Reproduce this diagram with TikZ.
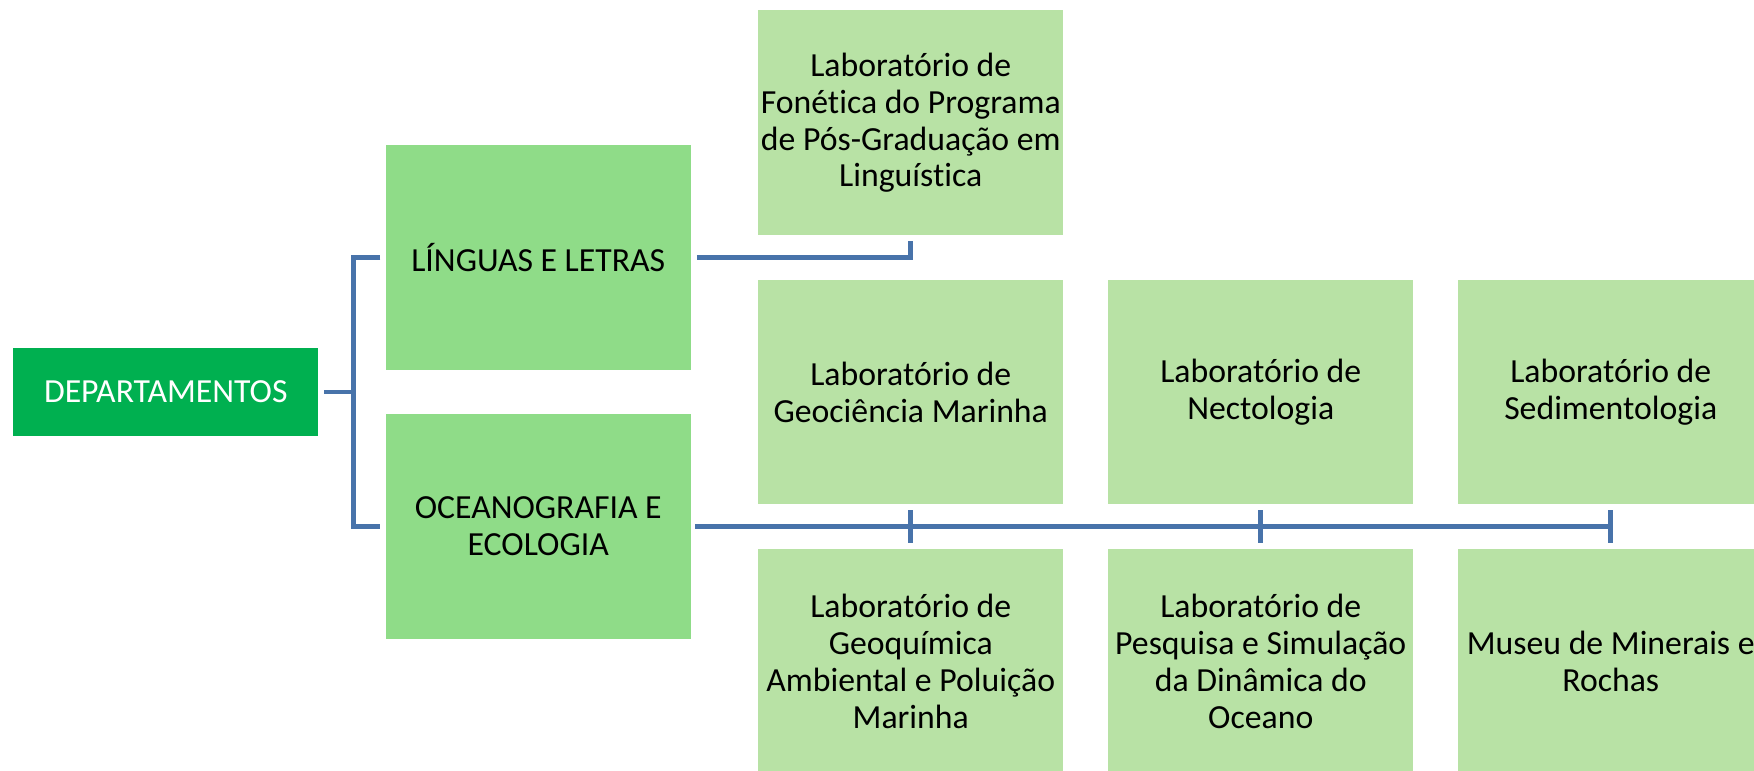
\documentclass[tikz,border=0pt]{standalone}
\usepackage{fontspec}
\setmainfont{Carlito}[Ligatures=NoCommon]
\usetikzlibrary{positioning}
\definecolor{deptgreen}{RGB}{0,176,80}
\definecolor{areagreen}{RGB}{143,220,136}
\definecolor{labgreen}{RGB}{184,226,165}
\definecolor{linkblue}{RGB}{72,115,170}

\begin{document}
\begin{tikzpicture}[node distance   = 0.45 cm]
  \useasboundingbox (0,0) rectangle (17.54,-7.71);
  \tikzset{BoxStyle/.style    = {shape          = rectangle,
                                 inner sep      = 0pt,
                                 outer sep      = 0pt,
                                 minimum width  = 3.05 cm,
                                 minimum height = 2.245 cm,
                                 align          = center,
                                 text           = black,
                                 font           = \fontsize{9.6}{10.5}\selectfont}}
  \tikzset{DeptStyle/.style   = {BoxStyle,
                                 fill           = deptgreen,
                                 text           = white,
                                 minimum height = 0.88 cm}}
  \tikzset{AreaStyle/.style   = {BoxStyle,
                                 fill           = areagreen}}
  \tikzset{LabStyle/.style    = {BoxStyle,
                                 fill           = labgreen}}
  \tikzset{EdgeStyle/.style   = {draw           = linkblue,
                                 line width     = 1.3 pt}}
     \node[DeptStyle] (Dep) at (1.6575,-3.92) {DEPARTAMENTOS};
     \node[AreaStyle,above right = 0.2225 cm and 0.675 cm of Dep.east](Let){LÍNGUAS E LETRAS};
     \node[AreaStyle,below = 0.445 cm of Let](Oce){OCEANOGRAFIA E\\ECOLOGIA};

     \node[LabStyle,above right = 0.22 cm and 0.675 cm of Oce.east](Geo){Laboratório de\\Geociência Marinha};
     \node[LabStyle,above=of Geo](Fon){Laboratório de\\Fonética do Programa\\de Pós-Graduação em\\Linguística};
     \node[LabStyle,right=of Geo](Nec){Laboratório de\\Nectologia};
     \node[LabStyle,right=of Nec](Sed){Laboratório de\\Sedimentologia};
     \node[LabStyle,below=of Geo](Gqm){Laboratório de\\Geoquímica\\Ambiental e Poluição\\Marinha};
     \node[LabStyle,below=of Nec](Pes){Laboratório de\\Pesquisa e Simulação\\da Dinâmica do\\Oceano};
     \node[LabStyle,below=of Sed](Mus){Museu de Minerais e\\Rochas};

     \coordinate (Fork) at ([xshift=0.355 cm]Dep.east);
     \draw[EdgeStyle] ([xshift=0.06 cm]Dep.east) -- (Fork);
     \draw[EdgeStyle] ([xshift=-0.055 cm]Let.west) -| (Fork) |- ([xshift=-0.055 cm]Oce.west);

     \draw[EdgeStyle] ([xshift=0.06 cm]Let.east) -| ([yshift=-0.06 cm]Fon.south);
     \draw[EdgeStyle] ([xshift=0.045 cm]Oce.east) -- (Sed.south |- Oce.east);
     \tikzset{EdgeStyle/.append style = {shorten <= 0.06 cm, shorten >= 0.06 cm}}
     \draw[EdgeStyle] (Geo) -- (Gqm);
     \draw[EdgeStyle] (Nec) -- (Pes);
     \draw[EdgeStyle] (Sed) -- (Mus);
  \end{tikzpicture}
\end{document}
